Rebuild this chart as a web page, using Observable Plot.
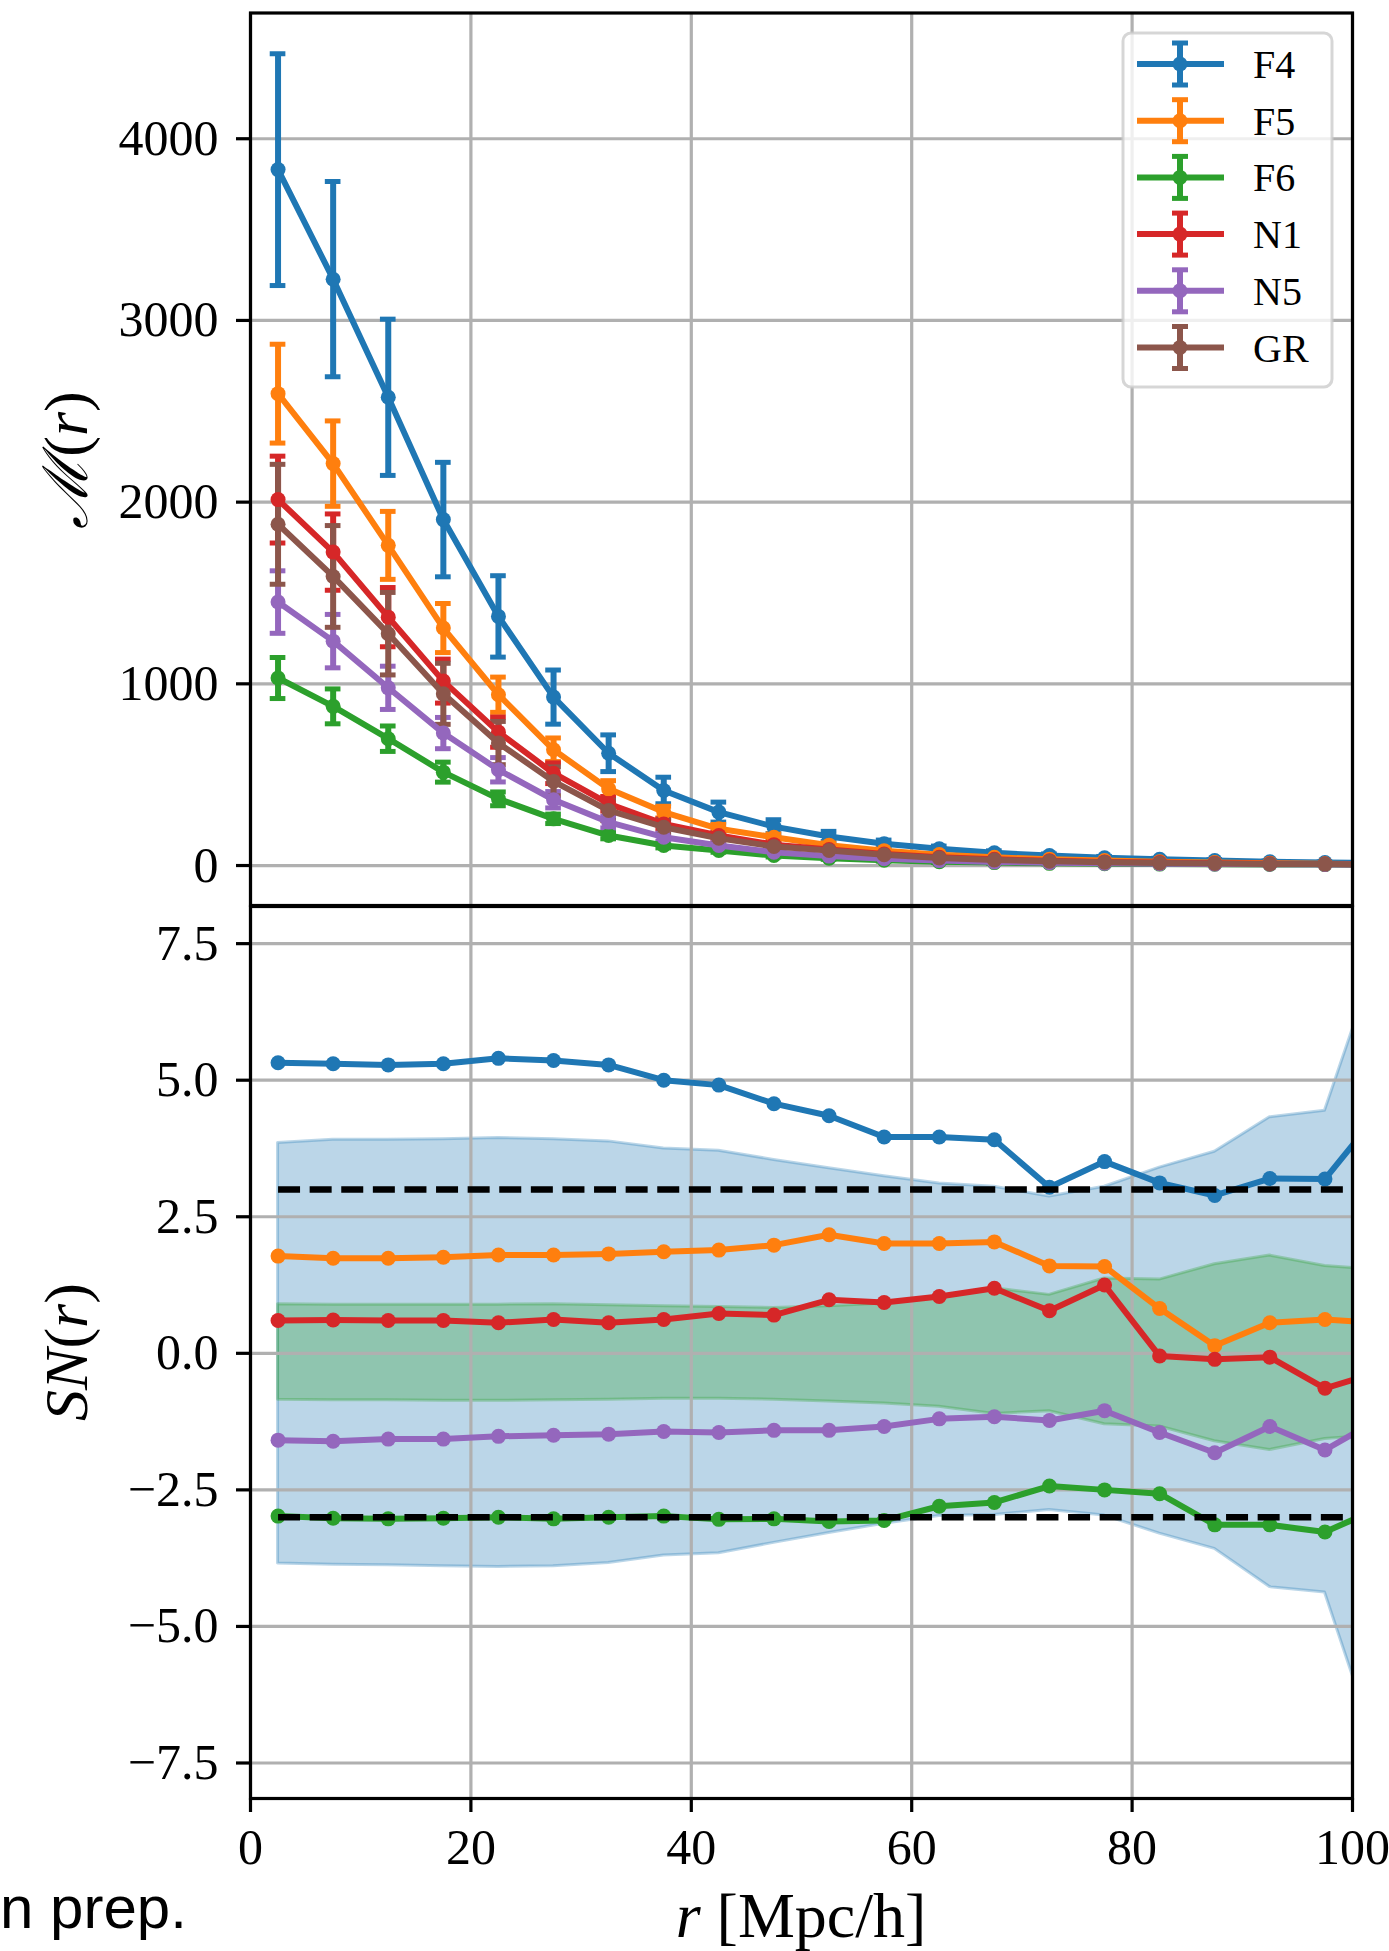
<!DOCTYPE html>
<html><head><meta charset="utf-8">
<script src="https://cdn.jsdelivr.net/npm/d3@7"></script>
<script src="https://cdn.jsdelivr.net/npm/@observablehq/plot@0.6"></script>
<style>
html,body{margin:0;padding:0;background:#fff;}
#wrap{position:relative;width:1389px;height:1951px;overflow:hidden;background:#fff;}
#wrap svg{position:absolute;left:0;overflow:visible;}
#note{position:absolute;left:0px;top:1878px;font-family:'Liberation Sans',Arial,sans-serif;font-size:60px;line-height:1;color:#000;white-space:nowrap;}
</style></head><body><div id="wrap"><div id="note">n prep.</div></div>
<script>
// ---------- data ----------
const r = [2.5, 7.5, 12.5, 17.5, 22.5, 27.5, 32.5, 37.5, 42.5, 47.5, 52.5, 57.5, 62.5, 67.5, 72.5, 77.5, 82.5, 87.5, 92.5, 97.5, 102.5];
const seriesNames = ["F4", "F5", "F6", "N1", "N5", "GR"];
const seriesColors = ["#1f77b4", "#ff7f0e", "#2ca02c", "#d62728", "#9467bd", "#8c564b"];

// top panel: M(r) and its error half-widths
const M_F4 = [3830, 3227, 2577, 1904, 1371, 927, 618, 413, 294, 214, 160, 120, 92, 70, 55, 43, 34, 27, 21, 17, 14];
const M_F5 = [2597, 2212, 1762, 1307, 940, 637, 422, 294, 202, 156, 112, 82, 60, 45, 35, 27, 21, 16, 13, 10, 8];
const M_F6 = [1032, 876, 698, 514, 367, 257, 165, 110, 83, 55, 40, 29, 21, 16, 12, 10, 8, 7, 6, 5, 4];
const M_N1 = [2014, 1725, 1367, 1015, 734, 508, 340, 229, 165, 115, 88, 63, 45, 34, 26, 20, 16, 13, 10, 8, 7];
const M_N5 = [1450, 1235, 978, 729, 527, 362, 239, 156, 110, 73, 52, 37, 27, 20, 15, 12, 10, 8, 7, 6, 5];
const M_GR = [1878, 1591, 1276, 945, 674, 463, 303, 211, 150, 105, 83, 59, 42, 31, 24, 18, 14, 11, 9, 8, 7];

const E_F4 = [638, 537, 430, 315, 224, 149, 101, 73, 55, 38, 28, 20, 15, 11, 9, 7, 6, 5, 4, 3, 3];
const E_F5 = [272, 235, 187, 135, 97, 65, 45, 32, 24, 18, 13, 10, 8, 6, 5, 4, 3, 3, 2, 2, 2];
const E_F6 = [113, 96, 70, 55, 38, 26, 18, 13, 10, 8, 6, 5, 4, 3, 3, 2, 2, 2, 1, 1, 1];
const E_N1 = [239, 210, 163, 121, 83, 57, 40, 28, 20, 15, 11, 8, 6, 5, 4, 3, 3, 2, 2, 2, 2];
const E_N5 = [172, 147, 119, 86, 67, 45, 32, 22, 16, 12, 9, 7, 5, 4, 3, 3, 2, 2, 2, 1, 1];
const E_GR = [330, 280, 227, 168, 119, 80, 56, 40, 29, 21, 15, 11, 8, 6, 5, 4, 3, 3, 2, 2, 2];

// bottom panel: SN(r)
const SN_F4 = [5.32, 5.30, 5.28, 5.30, 5.40, 5.36, 5.28, 5.00, 4.91, 4.57, 4.35, 3.96, 3.96, 3.91, 3.04, 3.51, 3.12, 2.89, 3.20, 3.19, 4.43];
const SN_F5 = [1.78, 1.74, 1.74, 1.76, 1.80, 1.80, 1.82, 1.86, 1.89, 1.98, 2.17, 2.01, 2.01, 2.04, 1.60, 1.59, 0.82, 0.14, 0.56, 0.62, 0.55];
const SN_F6 = [-2.98, -3.02, -3.03, -3.02, -3.00, -3.03, -3.00, -2.98, -3.04, -3.03, -3.08, -3.06, -2.80, -2.73, -2.43, -2.50, -2.57, -3.14, -3.14, -3.27, -2.83];
const SN_N1 = [0.60, 0.61, 0.60, 0.60, 0.56, 0.62, 0.56, 0.62, 0.73, 0.70, 0.98, 0.93, 1.04, 1.19, 0.78, 1.25, -0.05, -0.11, -0.07, -0.64, -0.34];
const SN_N5 = [-1.59, -1.61, -1.57, -1.57, -1.52, -1.50, -1.48, -1.43, -1.45, -1.41, -1.41, -1.34, -1.20, -1.16, -1.23, -1.05, -1.45, -1.82, -1.34, -1.77, -1.19];

// shaded bands
const blueUpper = [3.85, 3.91, 3.91, 3.92, 3.94, 3.92, 3.88, 3.75, 3.71, 3.54, 3.39, 3.24, 3.11, 3.05, 2.87, 3.05, 3.40, 3.69, 4.32, 4.44, 7.40];
const blueLower = [-3.85, -3.87, -3.88, -3.90, -3.91, -3.90, -3.84, -3.70, -3.66, -3.47, -3.29, -3.12, -2.98, -2.96, -2.87, -2.97, -3.30, -3.58, -4.28, -4.38, -7.40];
const greenUpper = [0.90, 0.89, 0.89, 0.89, 0.89, 0.90, 0.88, 0.86, 0.85, 0.83, 0.86, 0.91, 1.02, 1.19, 1.07, 1.37, 1.35, 1.63, 1.79, 1.60, 1.52];
const greenLower = [-0.85, -0.86, -0.86, -0.87, -0.87, -0.86, -0.85, -0.83, -0.83, -0.85, -0.88, -0.92, -0.98, -1.11, -1.06, -1.30, -1.34, -1.61, -1.77, -1.57, -1.49];

const thresholds = [3, -3];
const xTicks = [0, 20, 40, 60, 80, 100];
const mTicks = [0, 1000, 2000, 3000, 4000];
const snTicks = [-7.5, -5, -2.5, 0, 2.5, 5, 7.5];

// ---------- tables ----------
const Mvals = [M_F4, M_F5, M_F6, M_N1, M_N5, M_GR];
const Evals = [E_F4, E_F5, E_F6, E_N1, E_N5, E_GR];
const SNvals = [SN_F4, SN_F5, SN_F6, SN_N1, SN_N5];
const topData = seriesNames.map((name, i) => r.map((x, j) => ({series: name, r: x, m: Mvals[i][j], e: Evals[i][j]})));
const botData = SNvals.map((vals, i) => r.map((x, j) => ({series: seriesNames[i], r: x, v: vals[j]})));
const bandData = r.map((x, j) => ({r: x, bu: blueUpper[j], bl: blueLower[j], gu: greenUpper[j], gl: greenLower[j]}));
const dashData = thresholds.map(t => [{r: r[0], y: t}, {r: r[r.length - 1], y: t}]);

const GRID = {stroke: "#b0b0b0", strokeOpacity: 1, strokeWidth: 3.2};
const capHalf = 0.71; // half cap width in x units
const serif = "'Liberation Serif', 'DejaVu Serif', serif";

// ---------- top panel ----------
const topMarks = [
  Plot.gridX(xTicks, GRID),
  Plot.gridY(mTicks, GRID)
];
topData.forEach((d, i) => {
  const c = seriesColors[i];
  topMarks.push(
    Plot.ruleX(d, {x: "r", y1: t => t.m - t.e, y2: t => t.m + t.e, stroke: c, strokeWidth: 6, clip: true}),
    Plot.ruleY(d, {y: t => t.m + t.e, x1: t => t.r - capHalf, x2: t => t.r + capHalf, stroke: c, strokeWidth: 5, clip: true}),
    Plot.ruleY(d, {y: t => t.m - t.e, x1: t => t.r - capHalf, x2: t => t.r + capHalf, stroke: c, strokeWidth: 5, clip: true})
  );
});
topData.forEach((d, i) => {
  const c = seriesColors[i];
  topMarks.push(
    Plot.line(d, {x: "r", y: "m", stroke: c, strokeWidth: 6, clip: true}),
    Plot.dot(d, {x: "r", y: "m", fill: c, stroke: "none", r: 7.5, clip: true})
  );
});
topMarks.push(
  Plot.axisY(mTicks, {anchor: "left", tickSize: 14, tickPadding: 18, fontSize: 50, strokeWidth: 3.2, tickFormat: d => String(d), label: null}),
  Plot.frame({stroke: "#000", strokeWidth: 3.2})
);

const topSvg = Plot.plot({
  width: 1389, height: 906,
  marginLeft: 250, marginRight: 37, marginTop: 12.5, marginBottom: 1,
  x: {domain: [0, 100], axis: null},
  y: {domain: [-220, 4692]},
  style: {fontFamily: serif, background: "transparent", color: "#000"},
  marks: topMarks
});

// ---------- bottom panel ----------
const botMarks = [
  Plot.areaY(bandData, {x: "r", y1: "bl", y2: "bu", fill: "#1f77b4", fillOpacity: 0.3, stroke: "#1f77b4", strokeOpacity: 0.3, strokeWidth: 3, clip: true}),
  Plot.areaY(bandData, {x: "r", y1: "gl", y2: "gu", fill: "#2ca02c", fillOpacity: 0.3, stroke: "#2ca02c", strokeOpacity: 0.3, strokeWidth: 3, clip: true}),
  Plot.gridX(xTicks, GRID),
  Plot.gridY(snTicks, GRID)
];
botData.forEach((d, i) => {
  const c = seriesColors[i];
  botMarks.push(
    Plot.line(d, {x: "r", y: "v", stroke: c, strokeWidth: 6, clip: true}),
    Plot.dot(d, {x: "r", y: "v", fill: c, stroke: "none", r: 7.5, clip: true})
  );
});
dashData.forEach(d => {
  botMarks.push(Plot.line(d, {x: "r", y: "y", stroke: "#000", strokeWidth: 6.5, strokeDasharray: "22,9.6", strokeLinecap: "butt", clip: true}));
});
botMarks.push(
  Plot.axisY(snTicks, {anchor: "left", tickSize: 14, tickPadding: 18, fontSize: 50, strokeWidth: 3.2,
    tickFormat: d => (d < 0 ? "\u2212" : "") + Math.abs(d).toFixed(1), label: null}),
  Plot.axisX(xTicks, {anchor: "bottom", tickSize: 14, tickPadding: 16, fontSize: 50, strokeWidth: 3.2, tickFormat: d => String(d), label: null}),
  Plot.frame({stroke: "#000", strokeWidth: 3.2})
);

const botSvg = Plot.plot({
  width: 1389, height: 1046,
  marginLeft: 250, marginRight: 37, marginTop: 1, marginBottom: 153,
  x: {domain: [0, 100]},
  y: {domain: [-8.15, 8.18]},
  style: {fontFamily: serif, background: "transparent", color: "#000"},
  marks: botMarks
});

const wrap = document.getElementById("wrap");
topSvg.style.top = "0px";
botSvg.style.top = "905px";
wrap.appendChild(topSvg);
wrap.appendChild(botSvg);

// ---------- axis labels ----------
const ts = d3.select(topSvg);
const yl1 = ts.append("text")
  .attr("transform", "translate(87,460) rotate(-90)")
  .attr("text-anchor", "middle")
  .attr("font-size", 62).attr("font-family", serif).attr("fill", "#000");
yl1.append("tspan").attr("font-family", "'DejaVu Serif', serif").attr("font-style", "italic").text("\u2133");
yl1.append("tspan").text("(");
yl1.append("tspan").attr("font-style", "italic").text("r");
yl1.append("tspan").text(")");

const bs = d3.select(botSvg);
const yl2 = bs.append("text")
  .attr("transform", "translate(87,447) rotate(-90)")
  .attr("text-anchor", "middle")
  .attr("font-size", 62).attr("font-family", serif).attr("fill", "#000");
yl2.append("tspan").attr("font-style", "italic").text("SN");
yl2.append("tspan").text("(");
yl2.append("tspan").attr("font-style", "italic").text("r");
yl2.append("tspan").text(")");

const xl = bs.append("text")
  .attr("x", 801).attr("y", 1032)
  .attr("text-anchor", "middle")
  .attr("font-size", 64).attr("font-family", serif).attr("fill", "#000");
xl.append("tspan").attr("font-style", "italic").text("r");
xl.append("tspan").text(" [Mpc/h]");

// ---------- legend ----------
const lg = ts.append("g");
lg.append("rect").attr("x", 1123).attr("y", 33).attr("width", 209).attr("height", 354).attr("rx", 8)
  .attr("fill", "#fff").attr("fill-opacity", 0.8).attr("stroke", "#cccccc").attr("stroke-opacity", 0.8).attr("stroke-width", 3);
seriesNames.forEach((name, i) => {
  const cy = 64 + i * 56.7, c = seriesColors[i];
  const g = lg.append("g");
  g.append("line").attr("x1", 1137).attr("x2", 1224).attr("y1", cy).attr("y2", cy).attr("stroke", c).attr("stroke-width", 6);
  g.append("line").attr("x1", 1180).attr("x2", 1180).attr("y1", cy - 21).attr("y2", cy + 21).attr("stroke", c).attr("stroke-width", 6);
  g.append("line").attr("x1", 1172).attr("x2", 1188).attr("y1", cy - 21).attr("y2", cy - 21).attr("stroke", c).attr("stroke-width", 5);
  g.append("line").attr("x1", 1172).attr("x2", 1188).attr("y1", cy + 21).attr("y2", cy + 21).attr("stroke", c).attr("stroke-width", 5);
  g.append("circle").attr("cx", 1180).attr("cy", cy).attr("r", 7.5).attr("fill", c);
  g.append("text").attr("x", 1253).attr("y", cy + 14).attr("text-anchor", "start").attr("font-size", 40).attr("font-family", serif).attr("fill", "#000").text(name);
});
</script></body></html>
